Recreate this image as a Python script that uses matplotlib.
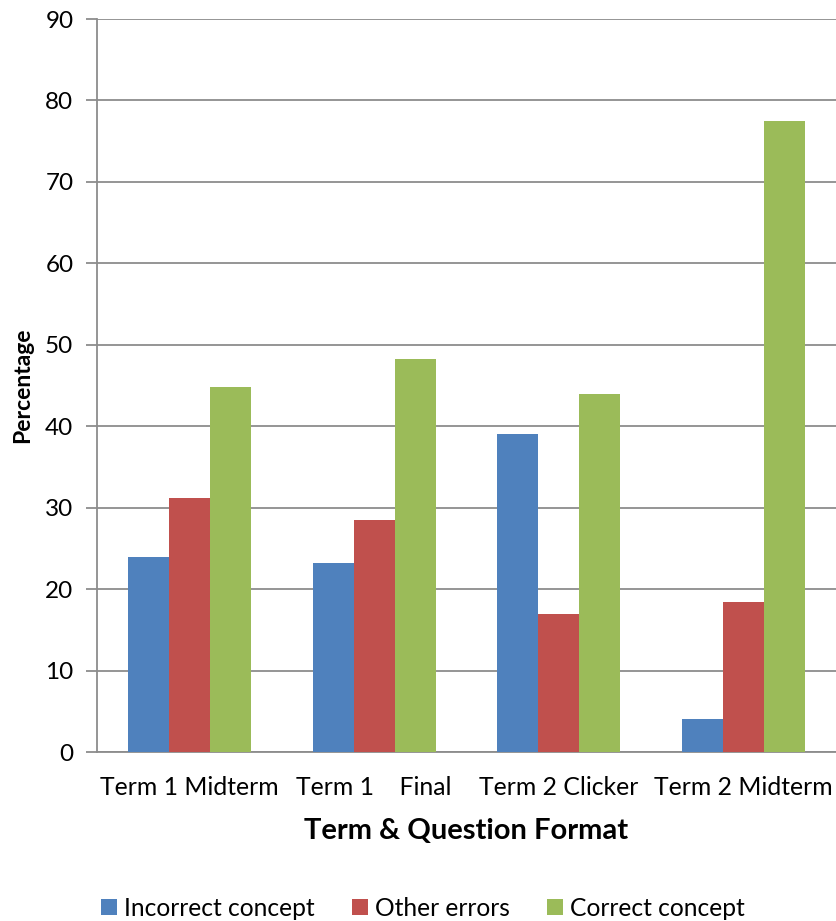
import numpy as np
import matplotlib.pyplot as plt
from matplotlib.patches import Patch

# データ
categories = ["Term 1 Midterm", "Term 1    Final", "Term 2 Clicker", "Term 2 Midterm"]
series_names = ["Incorrect concept", "Other errors", "Correct concept"]
incorrect = [24.0, 23.2, 39.0, 4.0]
other = [31.2, 28.5, 17.0, 18.4]
correct = [44.8, 48.2, 44.0, 77.5]
colors = ["#4F81BD", "#C0504D", "#9BBB59"]

plt.rcParams["font.family"] = ["Lato", "DejaVu Sans"]

fig = plt.figure(figsize=(8.36, 9.21), dpi=100)
ax = fig.add_axes([97 / 836, 169 / 921, 1.0 - 97 / 836, (752 - 19) / 921])

x = np.arange(len(categories))
w = 1 / 4.5  # gap width 150%
for i, vals in enumerate([incorrect, other, correct]):
    ax.bar(x + (i - 1) * w, vals, width=w, color=colors[i], linewidth=0, zorder=3)

ax.set_xlim(-0.5, len(categories) - 0.5)
ax.set_ylim(0, 90)
ax.set_yticks(np.arange(0, 91, 10))
ax.yaxis.grid(True, color="#8c8c8c", linewidth=1.3, zorder=0)
ax.set_xticks(x)
ax.set_xticklabels(categories, fontsize=17.8)
ax.tick_params(axis="x", length=0, pad=17)
ax.tick_params(axis="y", length=8, width=1.3, color="#8c8c8c", labelsize=17.5, pad=9)

for s in ["top", "right"]:
    ax.spines[s].set_visible(False)
for s in ["left", "bottom"]:
    ax.spines[s].set_color("#8c8c8c")
    ax.spines[s].set_linewidth(1.3)

ax.set_xlabel("Term & Question Format", fontsize=21, fontweight="bold", labelpad=14)
ax.set_ylabel("Percentage", fontsize=16.5, fontweight="bold", labelpad=9)

handles = [Patch(facecolor=c, edgecolor="none") for c in colors]
fig.legend(handles, series_names, loc="center", bbox_to_anchor=(0.506, 0.014),
           ncol=3, frameon=False, fontsize=17.7, handlelength=0.65, handleheight=0.65,
           handletextpad=0.3, columnspacing=1.5)

fig.savefig("out.png", dpi=100)
